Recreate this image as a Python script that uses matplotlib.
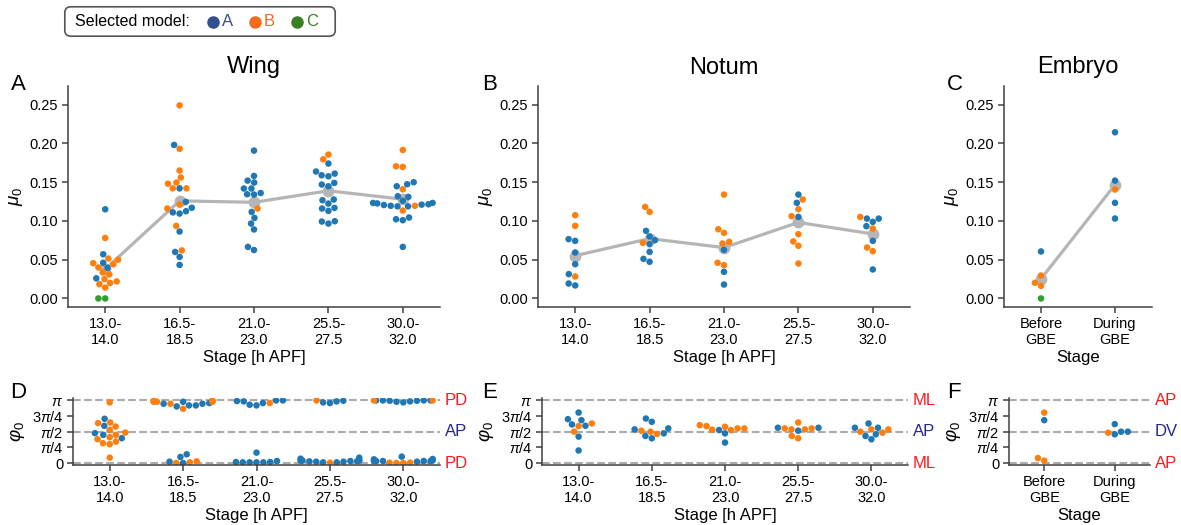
import warnings
import numpy as np
import pandas as pd
import matplotlib
matplotlib.use('Agg')
import matplotlib.pyplot as plt
import seaborn as sns
from matplotlib.patches import FancyBboxPatch

warnings.filterwarnings('ignore')

plt.rcParams['font.family'] = ['Liberation Sans', 'DejaVu Sans']
plt.rcParams['mathtext.fontset'] = 'custom'
plt.rcParams['mathtext.rm'] = 'Liberation Sans'
plt.rcParams['mathtext.it'] = 'Liberation Sans:italic'
plt.rcParams['mathtext.bf'] = 'Liberation Sans:bold'

# ---- data ----
stages_pupa = ['13.0-\n14.0', '16.5-\n18.5', '21.0-\n23.0', '25.5-\n27.5', '30.0-\n32.0']
stages_embryo = ['Before\nGBE', 'During\nGBE']

# mu_0, wing
wing_mu_A = [[0.115, 0.057, 0.046, 0.0395, 0.026],
             [0.198, 0.142, 0.1245, 0.117, 0.1125, 0.111, 0.1095, 0.0863, 0.060, 0.0536, 0.0433],
             [0.1907, 0.158, 0.152, 0.1495, 0.1418, 0.1418, 0.1344, 0.134, 0.136, 0.1116, 0.1039,
              0.0966, 0.089, 0.0665, 0.0625],
             [0.174, 0.1637, 0.161, 0.1589, 0.1576, 0.149, 0.1469, 0.1447, 0.1276, 0.1267, 0.1224,
              0.1168, 0.116, 0.1129, 0.0996, 0.0992, 0.0966],
             [0.1499, 0.1473, 0.1447, 0.1318, 0.131, 0.126, 0.1232, 0.1226, 0.1215, 0.1205, 0.1195,
              0.1188, 0.1188, 0.121, 0.1232, 0.1044, 0.1022, 0.1009, 0.0665]]
wing_mu_B = [[0.078, 0.050, 0.0515, 0.0455, 0.044, 0.040, 0.0335, 0.031, 0.025, 0.022, 0.020, 0.0185, 0.014],
             [0.249, 0.193, 0.165, 0.156, 0.1495, 0.148, 0.142, 0.142, 0.121, 0.116, 0.0936, 0.062],
             [0.116],
             [0.1855, 0.1795],
             [0.1915, 0.1705, 0.1696, 0.1408, 0.1195, 0.1134]]
wing_mu_C = [[0.0, 0.0], [], [], [], []]

# mu_0, notum
notum_mu_A = [[0.0765, 0.0743, 0.0593, 0.0442, 0.0314, 0.0193, 0.0168],
              [0.0872, 0.080, 0.0752, 0.070, 0.0601, 0.0511, 0.0473],
              [0.0627, 0.0344, 0.018],
              [0.134, 0.1233, 0.1052],
              [0.103, 0.103, 0.0988, 0.0932, 0.0743, 0.0374]]
notum_mu_B = [[0.1074, 0.0936, 0.0284],
              [0.1181, 0.1117, 0.0717],
              [0.134, 0.0893, 0.0846, 0.073, 0.0709, 0.046, 0.043],
              [0.1276, 0.1151, 0.1061, 0.0829, 0.0735, 0.0679, 0.0451],
              [0.1052, 0.0902, 0.0657, 0.061]]

# mu_0, embryo
embryo_mu_A = [[0.0606], [0.2143, 0.152, 0.1233, 0.1031]]
embryo_mu_B = [[0.0296, 0.0202, 0.0163], [0.1405]]
embryo_mu_C = [[0.0], []]

# phi_0 (rad), wing
wing_phi_A = [[2.219, 1.866, 1.498, 1.412, 1.245],
              [3.074, 3.007, 2.890, 2.839, 2.974, 2.890, 2.974, 0.437, 0.302, 0.067, 0.0],
              [3.14, 3.14, 3.108, 3.091, 2.924, 2.890, 3.007,
               0.521, 0.050, 0.034, 0.034, 0.034, 0.034, 0.050, 0.101],
              [3.041, 3.007, 3.091, 3.124,
               0.118, 0.118, 0.101, 0.067, 0.269, 0.151, 0.067, 0.218, 0.034, 0.084, 0.101, 0.118, 0.034],
              [3.14, 3.14, 3.124, 3.074, 3.041, 3.091, 3.124, 3.14, 3.14,
               0.101, 0.101, 0.185, 0.101, 0.319, 0.202, 0.101, 0.067, 0.101, 0.134]]
wing_phi_B = [[3.04, 2.032, 2.002, 1.83, 1.664, 1.528, 1.41, 1.296, 1.195, 1.074, 0.993, 0.943, 0.267],
              [3.108, 3.074, 2.974, 3.14, 2.722, 3.074, 3.074, 3.108, 3.108, 0.0, 0.034, 0.084],
              [3.007],
              [3.14, 0.017],
              [3.14, 3.14, 0.017, 0.0, 0.017, 0.0]]

# phi_0 (rad), notum
notum_phi_A = [[2.530, 2.199, 2.150, 1.868, 1.935, 1.323, 0.628],
               [2.232, 2.067, 1.687, 1.736, 1.356, 1.240, 1.488],
               [1.488, 1.653, 1.025],
               [1.769, 1.769, 1.620],
               [1.769, 1.984, 1.439, 1.190, 1.769, 1.356]]
notum_phi_B = [[1.984, 1.852, 1.571],
               [1.620, 1.571, 1.455],
               [1.736, 1.819, 1.901, 1.852, 1.653, 1.670, 1.736],
               [1.736, 1.687, 2.034, 1.356, 1.240, 1.687, 1.736],
               [1.687, 1.687, 1.571, 1.521]]

# phi_0 (rad), embryo
embryo_phi_A = [[2.150], [1.951, 1.439, 1.571, 1.571]]
embryo_phi_B = [[2.530, 0.248, 0.12], [1.521]]

dot_colors = {'A': '#1f77b4', 'B': '#ff7f0e', 'C': '#2ca02c'}
legend_colors = {'A': '#30508f', 'B': '#f26a1f', 'C': '#3a7f25'}
mean_color = '#b5b5b5'
red = '#ff1a1a'
navy = '#262690'


def frame(cats, series):
    rows = []
    for model, per_stage in series.items():
        for i, vals in enumerate(per_stage):
            for v in vals:
                rows.append((cats[i], v, model))
    return pd.DataFrame(rows, columns=['stage', 'value', 'model'])


def style(ax, cats):
    for s in ['top', 'right']:
        ax.spines[s].set_visible(False)
    for s in ['left', 'bottom']:
        ax.spines[s].set_color('#404040')
        ax.spines[s].set_linewidth(1.1)
    ax.tick_params(length=4, width=1.1, color='#404040', labelsize=10.5, pad=3)
    ax.set_xlim(-0.5, len(cats) - 0.5)


def swarm(ax, cats, series, with_mean):
    df = frame(cats, series)
    sns.swarmplot(data=df, x='stage', y='value', hue='model', order=cats,
                  hue_order=['A', 'B', 'C'], palette=dot_colors, size=4.7,
                  legend=False, ax=ax, zorder=2)
    if with_mean:
        means = df.groupby('stage')['value'].mean().reindex(cats).values
        ax.plot(np.arange(len(cats)), means, color=mean_color, lw=2.3,
                marker='o', ms=7.5, zorder=1.5)
    style(ax, cats)


W, H = 1181, 525
fig = plt.figure(figsize=(W / 100, H / 100), dpi=100)


def px_axes(l, r, t, b):
    return fig.add_axes([l / W, 1 - b / H, (r - l) / W, (b - t) / H])


axA = px_axes(68, 440, 86, 307)
axB = px_axes(538, 910, 86, 307)
axC = px_axes(1004, 1152, 86, 307)
axD = px_axes(73, 440, 398, 465)
axE = px_axes(542, 908, 398, 465)
axF = px_axes(1009, 1150, 398, 465)

# top row: mu_0
top = [(axA, stages_pupa, {'A': wing_mu_A, 'B': wing_mu_B, 'C': wing_mu_C}, 'Wing', 'Stage [h APF]'),
       (axB, stages_pupa, {'A': notum_mu_A, 'B': notum_mu_B}, 'Notum', 'Stage [h APF]'),
       (axC, stages_embryo, {'A': embryo_mu_A, 'B': embryo_mu_B, 'C': embryo_mu_C}, 'Embryo', 'Stage')]
for ax, cats, series, title, xl in top:
    swarm(ax, cats, series, True)
    ax.set_ylim(-0.011, 0.274)
    ax.set_yticks([0, 0.05, 0.10, 0.15, 0.20, 0.25])
    ax.set_yticklabels(['%.2f' % v for v in [0, 0.05, 0.10, 0.15, 0.20, 0.25]])
    ax.set_title(title, fontsize=17, pad=9)
    ax.set_xlabel(xl, fontsize=12, labelpad=2)
    ax.set_ylabel(r'$\mu_0$', fontsize=13.5, labelpad=3)

# bottom row: phi_0
pi = np.pi
bottom = [(axD, stages_pupa, {'A': wing_phi_A, 'B': wing_phi_B}, ['PD', 'AP', 'PD'], 'Stage [h APF]'),
          (axE, stages_pupa, {'A': notum_phi_A, 'B': notum_phi_B}, ['ML', 'AP', 'ML'], 'Stage [h APF]'),
          (axF, stages_embryo, {'A': embryo_phi_A, 'B': embryo_phi_B}, ['AP', 'DV', 'AP'], 'Stage')]
for ax, cats, series, axis_names, xl in bottom:
    for yv in [0, pi / 2, pi]:
        ax.axhline(yv, color='#aaaaaa', ls='--', lw=1.5, zorder=0.5)
    swarm(ax, cats, series, False)
    ax.set_ylim(-0.1, pi + 0.12)
    ax.set_yticks([0, pi / 4, pi / 2, 3 * pi / 4, pi])
    ax.set_yticklabels(['0', r'$\pi/4$', r'$\pi/2$', r'$3\pi/4$', r'$\pi$'])
    ax.set_xlabel(xl, fontsize=12, labelpad=2)
    ax.set_ylabel(r'$\varphi_0$', fontsize=13.5, labelpad=3)
    for yv, name, col in zip([pi, pi / 2, 0], axis_names, [red, navy, red]):
        ax.annotate(name, xy=(1, yv), xycoords=('axes fraction', 'data'),
                    xytext=(3.5, 0), textcoords='offset points', va='center',
                    ha='left', color=col, fontsize=12, annotation_clip=False)

# panel letters
for letter, x, y in [('A', 11, 90), ('B', 482, 90), ('C', 947, 90),
                     ('D', 10, 398), ('E', 482, 398), ('F', 947, 398)]:
    fig.text(x / W, 1 - y / H, letter, fontsize=16, va='baseline', ha='left')

# legend box
leg = fig.add_axes([64 / W, 1 - 37 / H, 272 / W, 31 / H])
leg.set_xlim(0, 272)
leg.set_ylim(0, 31)
leg.axis('off')
leg.add_patch(FancyBboxPatch((0.8, 0.8), 270.4, 29.4, boxstyle='round,pad=0,rounding_size=6',
                             fc='white', ec='#555555', lw=1.2, clip_on=False))
leg.text(11, 15.5, 'Selected model:', fontsize=11.5, va='center', ha='left')
for name, cx in [('A', 148.7), ('B', 191), ('C', 232.7)]:
    leg.plot([cx], [15.5], 'o', ms=8, color=legend_colors[name], clip_on=False)
    leg.text(cx + 9, 15.5, name, fontsize=12, va='center', ha='left', color=legend_colors[name])

fig.savefig('out.png', dpi=100)
